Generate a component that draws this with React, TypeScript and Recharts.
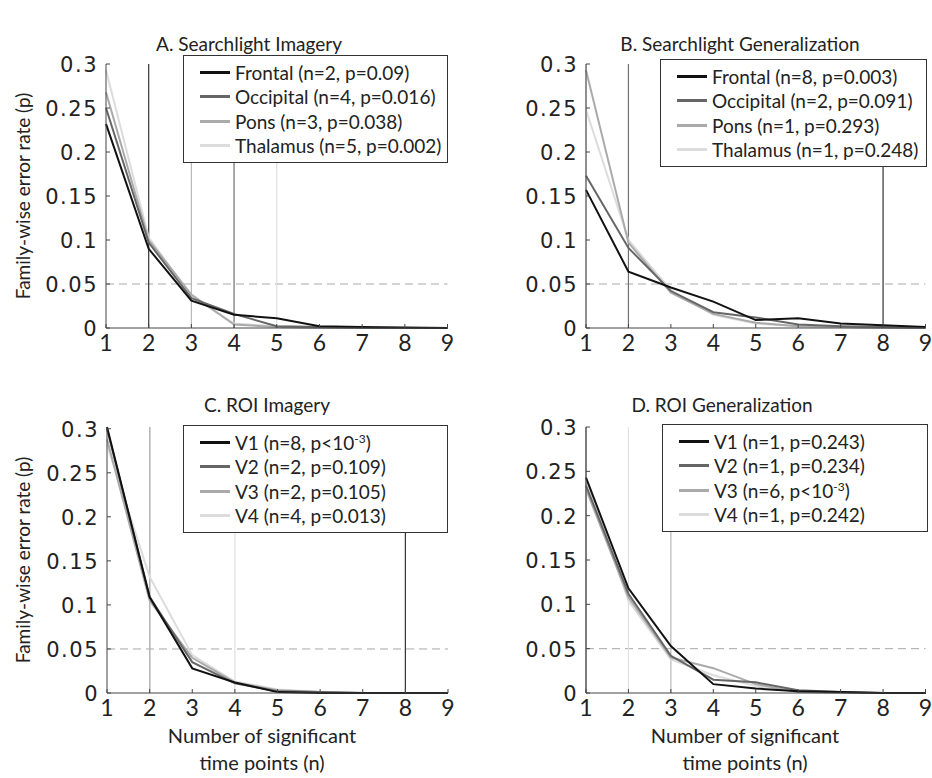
import React from "react";
import { LineChart, Line, XAxis, YAxis, ReferenceLine, Legend } from "recharts";

const nValues = [1, 2, 3, 4, 5, 6, 7, 8, 9];
const yTicks = [0, 0.05, 0.1, 0.15, 0.2, 0.25, 0.3];

// A. Searchlight Imagery
const frontalA = [0.232, 0.09, 0.031, 0.015, 0.011, 0.002, 0.001, 0.0005, 0];
const occipitalA = [0.25, 0.097, 0.034, 0.016, 0.002, 0.001, 0, 0, 0];
const ponsA = [0.268, 0.1, 0.038, 0.004, 0.001, 0, 0, 0, 0];
const thalamusA = [0.293, 0.103, 0.036, 0.005, 0.002, 0.001, 0, 0, 0];

// B. Searchlight Generalization
const frontalB = [0.157, 0.064, 0.046, 0.03, 0.009, 0.011, 0.005, 0.003, 0.001];
const occipitalB = [0.173, 0.091, 0.042, 0.018, 0.012, 0.004, 0.002, 0.001, 0];
const ponsB = [0.293, 0.097, 0.04, 0.016, 0.006, 0.002, 0.001, 0, 0];
const thalamusB = [0.248, 0.1, 0.043, 0.015, 0.005, 0.002, 0.001, 0, 0];

// C. ROI Imagery
const v1C = [0.302, 0.109, 0.028, 0.012, 0.001, 0, 0, 0, 0];
const v2C = [0.3, 0.109, 0.035, 0.011, 0.002, 0.001, 0, 0, 0];
const v3C = [0.288, 0.105, 0.04, 0.012, 0.003, 0.001, 0, 0, 0];
const v4C = [0.282, 0.132, 0.043, 0.013, 0.004, 0.001, 0, 0, 0];

// D. ROI Generalization
const v1D = [0.243, 0.118, 0.053, 0.01, 0.005, 0.002, 0.001, 0, 0];
const v2D = [0.234, 0.112, 0.042, 0.015, 0.012, 0.003, 0.001, 0, 0];
const v3D = [0.23, 0.108, 0.04, 0.028, 0.01, 0.001, 0, 0, 0];
const v4D = [0.242, 0.104, 0.038, 0.02, 0.008, 0.002, 0, 0, 0];

const labelsA = ["Frontal (n=2, p=0.09)", "Occipital (n=4, p=0.016)", "Pons (n=3, p=0.038)", "Thalamus (n=5, p=0.002)"];
const labelsB = ["Frontal (n=8, p=0.003)", "Occipital (n=2, p=0.091)", "Pons (n=1, p=0.293)", "Thalamus (n=1, p=0.248)"];
const labelsC = ["V1 (n=8, p<10^-3)", "V2 (n=2, p=0.109)", "V3 (n=2, p=0.105)", "V4 (n=4, p=0.013)"];
const labelsD = ["V1 (n=1, p=0.243)", "V2 (n=1, p=0.234)", "V3 (n=6, p<10^-3)", "V4 (n=1, p=0.242)"];

// vertical markers seen in each panel: [n, series index]
const markersA = [[2, 0], [3, 2], [4, 1], [5, 3]];
const markersB = [[8, 0], [2, 1], [1, 2], [1, 3]];
const markersC = [[8, 0], [2, 1], [2, 2], [4, 3]];
const markersD = [[1, 0], [1, 1], [1, 3], [2, 3], [3, 2]];

const COLORS = ["#111111", "#666666", "#aaaaaa", "#dcdcdc"];
const MARK_COLORS = ["#333333", "#707070", "#b8b8b8", "#e0e0e0"];
const FONT = "Lato, 'Open Sans', sans-serif";
const AXIS = "#444";

function XTick(props: any) {
  const { x, y, payload } = props;
  return (
    <g>
      <line x1={x} x2={x} y1={y} y2={y - 4} stroke={AXIS} />
      <text x={x} y={y + 23} textAnchor="middle" fontFamily={FONT} fontSize={23} fill="#222">
        {payload.value}
      </text>
    </g>
  );
}

function YTick(props: any) {
  const { x, y, payload } = props;
  return (
    <g>
      <line x1={x} x2={x + 4} y1={y} y2={y} stroke={AXIS} />
      <text
        x={x - 8}
        y={y + 8}
        textAnchor="end"
        fontFamily="'DejaVu Sans', sans-serif"
        fontSize={21}
        letterSpacing={1.5}
        fill="#222"
      >
        {String(payload.value)}
      </text>
    </g>
  );
}

function LegendLabel({ text }: { text: string }) {
  const idx = text.indexOf("^");
  if (idx < 0) return <>{text}</>;
  const close = text.indexOf(")", idx);
  return (
    <>
      {text.slice(0, idx)}
      <sup style={{ fontSize: 12, lineHeight: 0 }}>{text.slice(idx + 1, close)}</sup>
      {text.slice(close)}
    </>
  );
}

function makeLegend(labels: string[]) {
  return () => (
    <div
      style={{
        border: "1px solid #333",
        background: "#fff",
        padding: "4px 0 4px 16px",
        boxSizing: "border-box",
        height: 108,
      }}
    >
      {labels.map((l, i) => (
        <div key={l} style={{ display: "flex", alignItems: "center", height: 24.5 }}>
          <span style={{ display: "inline-block", width: 30, height: 3, background: COLORS[i], marginRight: 5 }} />
          <span style={{ fontFamily: FONT, fontSize: 19, color: "#222", whiteSpace: "nowrap" }}>
            <LegendLabel text={l} />
          </span>
        </div>
      ))}
    </div>
  );
}

type PanelProps = {
  left: number;
  top: number;
  margin: { top: number; right: number; bottom: number; left: number };
  series: number[][];
  labels: string[];
  markers: number[][];
  legendPos: { left: number; top: number; width: number };
};

function Panel({ left, top, margin, series, labels, markers, legendPos }: PanelProps) {
  const data = nValues.map((n, i) => ({
    n,
    s0: series[0][i],
    s1: series[1][i],
    s2: series[2][i],
    s3: series[3][i],
  }));
  return (
    <div style={{ position: "absolute", left, top }}>
      <LineChart width={466} height={389} data={data} margin={margin}>
        <XAxis
          dataKey="n"
          type="number"
          domain={[1, 9]}
          ticks={nValues}
          stroke={AXIS}
          tickSize={0}
          tickMargin={0}
          tick={<XTick />}
          height={30}
        />
        <YAxis
          type="number"
          domain={[0, 0.3]}
          ticks={yTicks}
          stroke={AXIS}
          tickSize={0}
          tickMargin={0}
          tick={<YTick />}
          width={50}
        />
        <ReferenceLine y={0.05} stroke="#a8a8a8" strokeDasharray="8 5" />
        {markers.map(([n, s], i) => (
          <ReferenceLine key={i} x={n} stroke={MARK_COLORS[s]} strokeWidth={1.2} />
        ))}
        {[3, 2, 1, 0].map((s) => (
          <Line
            key={s}
            type="linear"
            dataKey={"s" + s}
            stroke={COLORS[s]}
            strokeWidth={2}
            dot={false}
            isAnimationActive={false}
          />
        ))}
        <Legend
          layout="horizontal"
          verticalAlign="middle"
          align="center"
          content={makeLegend(labels)}
          wrapperStyle={{ left: legendPos.left, top: legendPos.top, width: legendPos.width }}
        />
      </LineChart>
    </div>
  );
}

const textStyle: React.CSSProperties = {
  position: "absolute",
  fontFamily: FONT,
  color: "#222",
  whiteSpace: "nowrap",
  transform: "translate(-50%, -50%)",
};

export default function App() {
  return (
    <div style={{ position: "absolute", left: 0, top: 0, width: 932, height: 778, background: "#fff" }}>
      <Panel
        left={0}
        top={0}
        margin={{ top: 64, right: 18.5, bottom: 31, left: 56 }}
        series={[frontalA, occipitalA, ponsA, thalamusA]}
        labels={labelsA}
        markers={markersA}
        legendPos={{ left: 183, top: 55, width: 265 }}
      />
      <Panel
        left={466}
        top={0}
        margin={{ top: 64, right: 6.5, bottom: 31, left: 70 }}
        series={[frontalB, occipitalB, ponsB, thalamusB]}
        labels={labelsB}
        markers={markersB}
        legendPos={{ left: 194, top: 59, width: 267 }}
      />
      <Panel
        left={0}
        top={389}
        margin={{ top: 38, right: 18, bottom: 55, left: 57 }}
        series={[v1C, v2C, v3C, v4C]}
        labels={labelsC}
        markers={markersC}
        legendPos={{ left: 183, top: 36, width: 265 }}
      />
      <Panel
        left={466}
        top={389}
        margin={{ top: 38, right: 6.5, bottom: 55, left: 70 }}
        series={[v1D, v2D, v3D, v4D]}
        labels={labelsD}
        markers={markersD}
        legendPos={{ left: 196, top: 35, width: 266 }}
      />

      <div style={{ ...textStyle, left: 249, top: 43, fontSize: 19 }}>A. Searchlight Imagery</div>
      <div style={{ ...textStyle, left: 740, top: 43, fontSize: 19 }}>B. Searchlight Generalization</div>
      <div style={{ ...textStyle, left: 267, top: 404, fontSize: 19 }}>C. ROI Imagery</div>
      <div style={{ ...textStyle, left: 722, top: 404, fontSize: 19 }}>D. ROI Generalization</div>

      <div style={{ ...textStyle, left: 22, top: 196, fontSize: 19, transform: "translate(-50%, -50%) rotate(-90deg)" }}>
        Family-wise error rate (p)
      </div>
      <div style={{ ...textStyle, left: 22, top: 560, fontSize: 19, transform: "translate(-50%, -50%) rotate(-90deg)" }}>
        Family-wise error rate (p)
      </div>

      <div style={{ ...textStyle, left: 262, top: 735, fontSize: 20 }}>Number of significant</div>
      <div style={{ ...textStyle, left: 262, top: 762, fontSize: 20 }}>time points (n)</div>
      <div style={{ ...textStyle, left: 745, top: 735, fontSize: 20 }}>Number of significant</div>
      <div style={{ ...textStyle, left: 745, top: 762, fontSize: 20 }}>time points (n)</div>
    </div>
  );
}
